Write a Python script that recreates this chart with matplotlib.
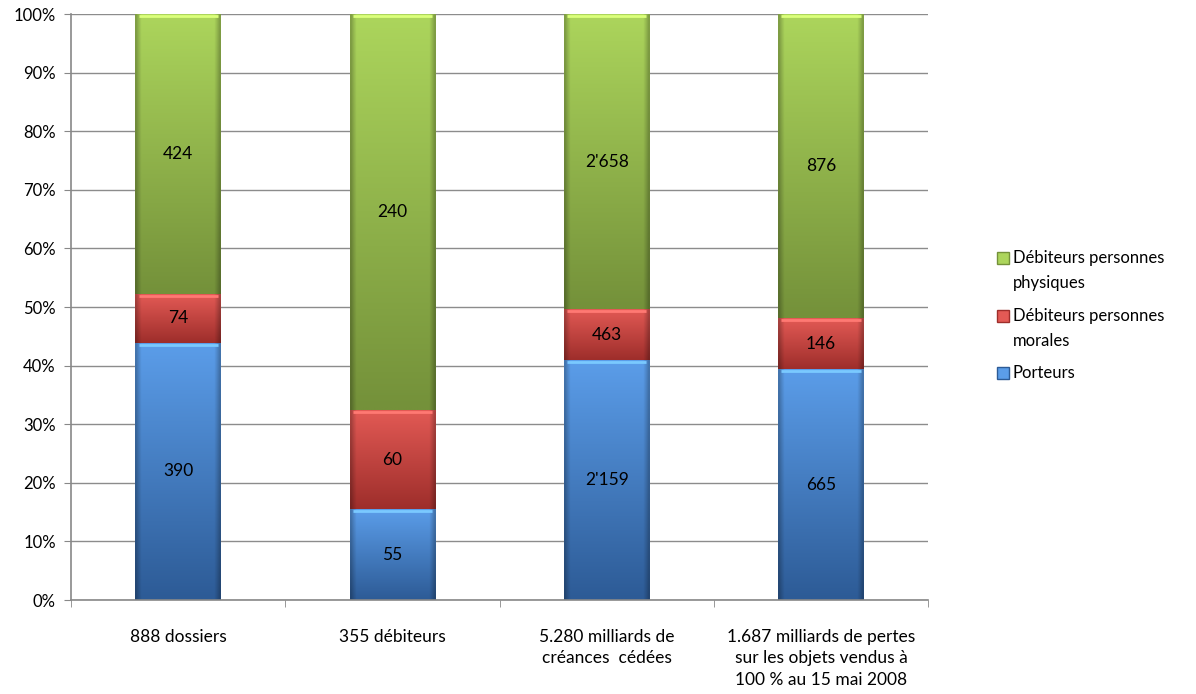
import numpy as np
import matplotlib.pyplot as plt
from matplotlib.colors import to_rgb
from matplotlib.lines import Line2D

plt.rcParams['font.family'] = ['Lato', 'DejaVu Sans']

categories = ["888 dossiers", "355 débiteurs", "5.280 milliards de\ncréances  cédées",
              "1.687 milliards de pertes\nsur les objets vendus à\n100 % au 15 mai 2008"]
porteurs = [390, 55, 2159, 665]
morales = [74, 60, 463, 146]
physiques = [424, 240, 2658, 876]
labels = [["390", "55", "2'159", "665"],
          ["74", "60", "463", "146"],
          ["424", "240", "2'658", "876"]]
series_names = ["Porteurs", "Débiteurs personnes\nmorales", "Débiteurs personnes\nphysiques"]
# (top colour, bottom colour)
grad = [("#5b9de9", "#2d5b96"), ("#e35a55", "#9e2e2b"), ("#acd55c", "#74913a")]

totals = np.array(porteurs) + np.array(morales) + np.array(physiques)
data = [np.array(porteurs) / totals * 100,
        np.array(morales) / totals * 100,
        np.array(physiques) / totals * 100]

W, H = 1196, 694
fig = plt.figure(figsize=(W / 100, H / 100), dpi=100)
ax = fig.add_axes([0.0594, 0.1354, 0.7166, 0.8444])

x = np.arange(len(categories))
w = 0.40


def gradient_bar(ax, xc, y0, h, top, bottom):
    t = np.array(to_rgb(top))
    b = np.array(to_rgb(bottom))
    ny, nx = 64, 32
    v = np.linspace(0, 1, ny)[:, None, None]
    img = t * (1 - v) + b * v
    img = np.repeat(img, nx, axis=1)
    # darker side edges
    u = np.linspace(-1, 1, nx)
    side = 1 - 0.25 * np.clip((np.abs(u) - 0.88) / 0.12, 0, 1)
    img = img * side[None, :, None]
    ax.imshow(np.clip(img, 0, 1), extent=(xc - w / 2, xc + w / 2, y0, y0 + h),
              aspect='auto', origin='upper', zorder=2, interpolation='bilinear')
    # light highlight at the top edge
    hl = np.clip(t * 1.2 + 0.05, 0, 1)
    ax.plot([xc - w / 2 + 0.015, xc + w / 2 - 0.015], [y0 + h - 0.35, y0 + h - 0.35],
            color=hl, lw=2, zorder=3, solid_capstyle='butt')


for i in range(len(categories)):
    bottom = 0
    for s in range(3):
        h = data[s][i]
        gradient_bar(ax, x[i], bottom, h, grad[s][0], grad[s][1])
        ax.text(x[i], bottom + h / 2, labels[s][i], ha='center', va='center',
                fontsize=12.5, color='black', zorder=4)
        bottom += h

ax.set_xlim(-0.5, len(categories) - 0.5)
ax.set_ylim(0, 100)
ax.set_yticks(np.arange(0, 101, 10))
ax.set_yticklabels([f"{v}%" for v in range(0, 101, 10)], fontsize=12)
ax.set_xticks(x)
ax.set_xticklabels(categories, fontsize=12.5, linespacing=1.4)
ax.set_xticks(np.arange(-0.5, len(categories), 1), minor=True)
ax.tick_params(axis='x', which='major', length=0, pad=21)
ax.tick_params(axis='x', which='minor', length=5, color='#888888', direction='out')
ax.tick_params(axis='y', length=5, color='#888888', direction='out', pad=6)
ax.yaxis.grid(True, color='#8c8c8c', lw=1)
ax.set_axisbelow(True)
for sp in ['top', 'right']:
    ax.spines[sp].set_visible(False)
for sp in ['left', 'bottom']:
    ax.spines[sp].set_color('#888888')
    ax.spines[sp].set_linewidth(1.2)

# legend drawn by hand (pixel positions from the top of the figure)
leg_rows = [(2, 258, 25), (1, 316, 25), (0, 373, 0)]
for s, ytop, gap in leg_rows:
    fy = 1 - ytop / H
    fig.add_artist(Line2D([1003 / W], [fy], marker='s', ls='none', markersize=8,
                          markerfacecolor=grad[s][0], markeredgecolor=grad[s][1],
                          transform=fig.transFigure))
    for k, line in enumerate(series_names[s].split("\n")):
        fig.text(1013 / W, 1 - (ytop + k * gap) / H, line, ha='left', va='center',
                 fontsize=12)

plt.savefig("out.png", dpi=100)
